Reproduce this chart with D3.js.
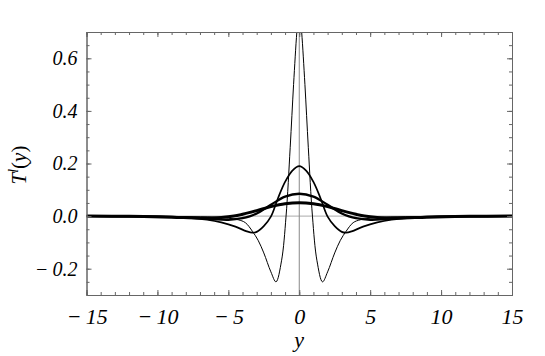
<!DOCTYPE html>
<html lang="en">
<head>
<meta charset="utf-8">
<title>T^l(y)</title>
<script src="https://d3js.org/d3.v7.js"></script>
<style>
  body { margin: 0; background: #fff; }
  svg text { font-family: "Liberation Serif", "Times New Roman", serif; font-style: italic; fill: #000; }
</style>
</head>
<body>
<script>

// data (x = y, value = T^l(y)), thinnest line first

  const xA = [-15, -10, -8, -6, -5, -4.3, -3.8, -3.3, -2.9, -2.5, -2.0, -1.64, -1.25, -0.93, -0.64, -0.4, -0.17, 0,
              0.17, 0.4, 0.64, 0.93, 1.25, 1.64, 2.0, 2.5, 2.9, 3.3, 3.8, 4.3, 5, 6, 8, 10, 15];
  const yA = [0, -0.001, -0.002, -0.004, -0.008, -0.014, -0.025, -0.058, -0.092, -0.14, -0.212, -0.25, -0.17, 0, 0.26, 0.5, 0.7, 0.8,
              0.7, 0.5, 0.26, 0, -0.17, -0.25, -0.212, -0.14, -0.092, -0.058, -0.025, -0.014, -0.008, -0.004, -0.002, -0.001, 0];

  const xB = [-15, -10, -8, -6.5, -5.5, -4.5, -3.7, -3.3, -3.0, -2.5, -2.0, -1.5, -1.0, -0.5, 0,
              0.5, 1.0, 1.5, 2.0, 2.5, 3.0, 3.3, 3.7, 4.5, 5.5, 6.5, 8, 10, 15];
  const yB = [0, -0.002, -0.006, -0.014, -0.024, -0.04, -0.058, -0.063, -0.06, -0.038, -0.002, 0.068, 0.13, 0.172, 0.19,
              0.172, 0.13, 0.068, -0.002, -0.038, -0.06, -0.063, -0.058, -0.04, -0.024, -0.014, -0.006, -0.002, 0];

  const xC = [-15, -12, -9, -7, -6, -5, -4, -3.5, -3, -2, -1, 0, 1, 2, 3, 3.5, 4, 5, 6, 7, 9, 12, 15];
  const yC = [0, -0.001, -0.003, -0.008, -0.012, -0.014, -0.008, -0.001, 0.01, 0.043, 0.074, 0.085,
              0.074, 0.043, 0.01, -0.001, -0.008, -0.014, -0.012, -0.008, -0.003, -0.001, 0];

  const xD = [-15, -12, -9, -7, -5.5, -4.6, -4, -3, -2, -1, 0, 1, 2, 3, 4, 4.6, 5.5, 7, 9, 12, 15];
  const yD = [0, -0.001, -0.004, -0.007, -0.005, 0, 0.007, 0.021, 0.036, 0.047, 0.051,
              0.047, 0.036, 0.021, 0.007, 0, -0.005, -0.007, -0.004, -0.001, 0];

  const series = [
    {x: xA, y: yA, width: 1.0},
    {x: xB, y: yB, width: 1.7},
    {x: xC, y: yC, width: 2.3},
    {x: xD, y: yD, width: 3.0}
  ];

  const xMajor = [-15, -10, -5, 0, 5, 10, 15];
  const yMajor = [-0.2, 0, 0.2, 0.4, 0.6];

  const w = 545;
  const h = 356;
  const margin = {top: 32, right: 33, bottom: 61, left: 86.5};
  const innerWidth = w - margin.left - margin.right;
  const innerHeight = h - margin.top - margin.bottom;

  const xScale = d3.scaleLinear().domain([-15, 15]).range([0, innerWidth]);
  const yScale = d3.scaleLinear().domain([-0.3, 0.7]).range([innerHeight, 0]);

  const svg = d3.select("body").append("svg")
      .attr("width", w)
      .attr("height", h);

  const g = svg.append("g")
      .attr("transform", `translate(${margin.left},${margin.top})`);

  g.append("clipPath").attr("id", "clip")
    .append("rect")
      .attr("width", innerWidth)
      .attr("height", innerHeight);

// zero axes

  g.append("line")
      .attr("x1", 0).attr("x2", innerWidth)
      .attr("y1", yScale(0)).attr("y2", yScale(0))
      .attr("stroke", "#aaa").attr("stroke-width", 1);
  g.append("line")
      .attr("x1", xScale(0)).attr("x2", xScale(0))
      .attr("y1", 0).attr("y2", innerHeight)
      .attr("stroke", "#888").attr("stroke-width", 1);

// curves

  const line = d3.line()
      .x(d => xScale(d[0]))
      .y(d => yScale(d[1]))
      .curve(d3.curveCatmullRom.alpha(0.5));

  g.append("g").attr("clip-path", "url(#clip)")
    .selectAll("path")
    .data(series)
    .join("path")
      .attr("d", s => line(s.x.map((v, i) => [v, s.y[i]])))
      .attr("fill", "none")
      .attr("stroke", "#000")
      .attr("stroke-width", s => s.width)
      .attr("stroke-linejoin", "round");

// frame with inward ticks on all four sides

  const fmtX = d => d < 0 ? "\u2212\u2009" + Math.abs(d) : String(d);
  const fmtY = d => d < 0 ? "\u2212\u2009" + d3.format(".1f")(Math.abs(d)) : d3.format(".1f")(d);

  const frame = (axis, tr) => {
    const a = g.append("g").attr("transform", tr).call(axis)
        .attr("font-family", null);
    a.select(".domain").attr("stroke", "#666");
    a.selectAll(".tick line").attr("stroke", "#666");
    return a;
  };

  const xMinor = d3.range(-15, 16, 1);
  const yMinor = d3.range(-0.3, 0.701, 0.05);

  frame(d3.axisBottom(xScale).tickValues(xMinor).tickSize(-3).tickFormat(""), `translate(0,${innerHeight})`);
  frame(d3.axisTop(xScale).tickValues(xMinor).tickSize(-3).tickFormat(""), "translate(0,0)");
  frame(d3.axisLeft(yScale).tickValues(yMinor).tickSize(-3).tickFormat(""), "translate(0,0)");
  frame(d3.axisRight(yScale).tickValues(yMinor).tickSize(-3).tickFormat(""), `translate(${innerWidth},0)`);

  const xb = frame(d3.axisBottom(xScale).tickValues(xMajor).tickSize(-5).tickPadding(10).tickFormat(fmtX),
      `translate(0,${innerHeight})`);
  xb.selectAll("text").attr("font-size", 22).attr("dy", "0.85em");
  frame(d3.axisTop(xScale).tickValues(xMajor).tickSize(-5).tickFormat(""), "translate(0,0)");

  const yl = frame(d3.axisLeft(yScale).tickValues(yMajor).tickSize(-5).tickPadding(9).tickFormat(fmtY), "translate(0,0)");
  yl.selectAll("text").attr("font-size", 20);
  frame(d3.axisRight(yScale).tickValues(yMajor).tickSize(-5).tickFormat(""), `translate(${innerWidth},0)`);

// axis titles

  svg.append("text")
      .attr("x", margin.left + xScale(0))
      .attr("y", 347)
      .attr("text-anchor", "middle")
      .attr("font-size", 22)
      .text("y");

  const yt = svg.append("text")
      .attr("transform", "translate(26,165) rotate(-90)")
      .attr("text-anchor", "middle")
      .attr("font-size", 21);
  yt.append("tspan").text("T");
  yt.append("tspan").attr("dy", -8).attr("font-size", 14).text("l");
  yt.append("tspan").attr("dy", 8).style("font-style", "normal").text("(");
  yt.append("tspan").text("y");
  yt.append("tspan").style("font-style", "normal").text(")");

</script>
</body>
</html>
